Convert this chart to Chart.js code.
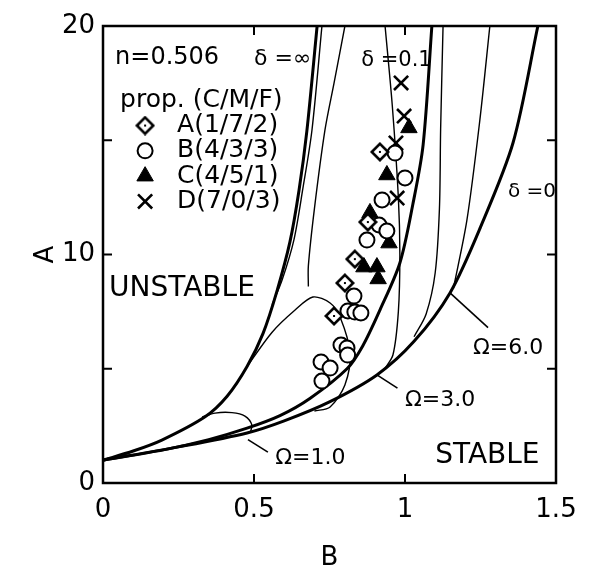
<!DOCTYPE html>
<html>
<head>
<meta charset="utf-8">
<script src="https://cdn.jsdelivr.net/npm/chart.js@4.4.1/dist/chart.umd.min.js"></script>
<style>
 html,body{margin:0;padding:0;background:#fff;}
 #wrap{position:relative;width:589px;height:571px;}
</style>
</head>
<body>
<div id="wrap"><canvas id="chartID"></canvas></div>
<script>
// axes
var xTicks=[0,0.5,1,1.5];
var yTicks=[0,5,10,15,20];
var yLabels=['0','','10','','20'];

// thick boundary curves, points are [B, A]
var deltaInf=[[0,1],[0.1,1.4],[0.195,1.88],[0.338,2.9],[0.411,3.8],[0.477,5.1],[0.53,6.55],[0.576,8.4],[0.619,10.55],[0.649,12.8],[0.675,15.4],[0.709,20]];
var deltaMid=[[0,1],[0.2,1.45],[0.35,1.9],[0.477,2.4],[0.586,2.95],[0.685,3.7],[0.808,5.0],[0.86,6.0],[0.917,7.57],[0.983,9.63],[1.026,12.2],[1.06,14.8],[1.089,20]];
var deltaZero=[[0,1],[0.25,1.58],[0.477,2.19],[0.6,2.72],[0.75,3.55],[0.907,4.73],[1.03,6.2],[1.149,8.32],[1.25,11.2],[1.358,14.9],[1.44,20]];

// thin curves
var omega1=[[0.328,2.88],[0.371,3.06],[0.427,3.08],[0.47,2.93],[0.493,2.54],[0.487,2.19]];
var omega3=[[0.477,5.1],[0.56,6.6],[0.636,7.57],[0.695,8.14],[0.752,7.88],[0.785,7.26],[0.818,5.69],[0.801,4.29],[0.752,3.33],[0.7,3.15]];
var thinA=[[0.56,7.8],[0.593,8.88],[0.632,10.63],[0.662,12.9],[0.692,15.45],[0.725,20]];
var thinB=[[0.801,20],[0.765,17.5],[0.735,15.45],[0.7,12],[0.68,9.5],[0.68,8.6]];
var thinC=[[0.934,20],[0.958,16.5],[0.978,12.5],[0.983,10],[0.978,7.5],[0.96,5.6],[0.93,4.95]];
var thinD=[[1.126,20],[1.118,15.5],[1.114,12],[1.1,9.2],[1.07,7.4],[1.03,6.4]];
var thinE=[[1.281,20],[1.248,15.9],[1.205,11.5],[1.16,8.5]];

// measured points, [B, A]
var propA=[[0.917,14.49],[0.877,11.42],[0.834,9.8],[0.801,8.75],[0.765,7.31]];
var propB=[[0.967,14.44],[1.0,13.35],[0.924,12.39],[0.914,11.29],[0.94,11.03],[0.874,10.63],[0.831,8.18],[0.811,7.53],[0.834,7.48],[0.854,7.44],[0.788,6.04],[0.808,5.91],[0.81,5.6],[0.722,5.3],[0.752,5.03],[0.725,4.46]];
var propC=[[1.013,15.54],[0.94,13.48],[0.884,11.82],[0.947,10.5],[0.864,9.45],[0.907,9.45],[0.911,8.93]];
var propD=[[0.987,17.51],[0.997,16.06],[0.97,14.88],[0.974,12.47]];
var propNames=['A(1/7/2)','B(4/3/3)','C(4/5/1)','D(7/0/3)'];

// text labels, [B, A]
var notes=[
 {t:'n=0.506',p:[0.04,18.6],s:24},
 {t:'\u03b4 =\u221e',p:[0.5,18.55],s:22},
 {t:'\u03b4 =0.1',p:[0.855,18.5],s:21},
 {t:'\u03b4 =0',p:[1.341,12.73],s:20},
 {t:'UNSTABLE',p:[0.02,8.5],s:28},
 {t:'STABLE',p:[1.1,1.2],s:28},
 {t:'\u03a9=1.0',p:[0.57,1.1],s:22},
 {t:'\u03a9=3.0',p:[1.0,3.6],s:22},
 {t:'\u03a9=6.0',p:[1.225,5.9],s:22}
];
var pointers=[[[0.48,1.9],[0.546,1.35]],[[0.907,4.73],[0.975,4.15]],[[1.149,8.32],[1.275,6.8]]];

function line(d,w){
 return {type:'scatter',data:d.map(function(p){return {x:p[0],y:p[1]};}),showLine:true,pointRadius:0,borderColor:'#000',borderWidth:w,tension:0.3,order:2};
}
function diamondImg(){
 var c=document.createElement('canvas');c.width=20;c.height=20;
 var g=c.getContext('2d');
 g.lineWidth=2.6;g.strokeStyle='#000';g.fillStyle='#fff';
 g.beginPath();g.moveTo(10,1.8);g.lineTo(18.2,10);g.lineTo(10,18.2);g.lineTo(1.8,10);g.closePath();
 g.fill();g.stroke();
 g.fillStyle='#000';g.fillRect(9,9,2,2);
 return c;
}
var dImg=diamondImg();
function pts(d,style,r,fill,bw){
 return {type:'scatter',data:d.map(function(p){return {x:p[0],y:p[1]};}),pointStyle:style,pointRadius:r,backgroundColor:fill,borderColor:'#000',borderWidth:bw,order:0};
}

var sets=[
 line(deltaInf,3),line(deltaMid,3),line(deltaZero,3),
 line(omega1,1.4),line(omega3,1.4),line(thinA,1.4),line(thinB,1.4),line(thinC,1.4),line(thinD,1.4),line(thinE,1.4),
 pts(propA,dImg,8,'#fff',2),pts(propB,'circle',7.5,'#fff',2),pts(propC,'triangle',9.5,'#000',1),pts(propD,'crossRot',10,'#000',2.6)
];
for (var i=0;i<4;i++) {sets[10+i].label=propNames[i];}

var frame={id:'frame',afterDraw:function(c){
 var g=c.ctx,a=c.chartArea,xs=c.scales.x,ys=c.scales.y;
 g.save();
 g.strokeStyle='#000';g.lineWidth=2.5;
 g.strokeRect(a.left,a.top,a.right-a.left,a.bottom-a.top);
 g.lineWidth=2;
 xTicks.slice(1,-1).forEach(function(v){var px=xs.getPixelForValue(v);
  g.beginPath();g.moveTo(px,a.bottom);g.lineTo(px,a.bottom-9);g.moveTo(px,a.top);g.lineTo(px,a.top+9);g.stroke();});
 yTicks.slice(1,-1).forEach(function(v){var py=ys.getPixelForValue(v);
  g.beginPath();g.moveTo(a.left,py);g.lineTo(a.left+9,py);g.moveTo(a.right,py);g.lineTo(a.right-9,py);g.stroke();});
 // pointers
 g.lineWidth=1.6;
 pointers.forEach(function(p){g.beginPath();g.moveTo(xs.getPixelForValue(p[0][0]),ys.getPixelForValue(p[0][1]));g.lineTo(xs.getPixelForValue(p[1][0]),ys.getPixelForValue(p[1][1]));g.stroke();});
 // notes
 g.fillStyle='#000';g.textBaseline='middle';g.textAlign='left';
 notes.forEach(function(n){g.font=n.s+'px "DejaVu Sans"';g.fillText(n.t,xs.getPixelForValue(n.p[0]),ys.getPixelForValue(n.p[1]));});
 // legend
 var lx=xs.getPixelForValue(0.05),ly=ys.getPixelForValue(16.75);
 g.font='25px "DejaVu Sans"';
 g.fillText('prop. (C/M/F)',lx+2,ly);
 c.data.datasets.forEach(function(d){
  if (!d.label) return;
  ly+=25.3;
  g.fillStyle=d.backgroundColor;g.strokeStyle='#000';g.lineWidth=d.borderWidth;
  Chart.helpers.drawPoint(g,{pointStyle:d.pointStyle,radius:d.pointRadius,rotation:0,borderWidth:d.borderWidth},lx+27,ly);
  g.fillStyle='#000';
  g.fillText(d.label,lx+59,ly);
 });
 g.restore();
}};

new Chart(document.getElementById('chartID'),{
 type:'scatter',
 data:{datasets:sets},
 options:{
  responsive:true,maintainAspectRatio:false,animation:false,
  layout:{padding:{top:26,right:33,left:0,bottom:0}},
  plugins:{legend:{display:false},tooltip:{enabled:false}},
  scales:{
   x:{type:'linear',min:0,max:1.5,
    afterFit:function(s){s.height=88;},
    afterBuildTicks:function(s){s.ticks=xTicks.map(function(v){return {value:v};});},
    grid:{display:false,drawTicks:false},border:{display:false},
    ticks:{padding:12,color:'#000',font:{family:'DejaVu Sans',size:26},callback:function(v){return String(v);}},
    title:{display:true,text:'B',color:'#000',font:{family:'DejaVu Sans',size:26},padding:{top:0,bottom:-3}}},
   y:{type:'linear',min:0,max:20,
    afterFit:function(s){s.width=103;},
    afterBuildTicks:function(s){s.ticks=yTicks.map(function(v){return {value:v};});},
    grid:{display:false,drawTicks:false},border:{display:false},
    ticks:{padding:8,color:'#000',font:{family:'DejaVu Sans',size:26},callback:function(v){return yLabels[yTicks.indexOf(v)];}},
    title:{display:true,text:'A',color:'#000',font:{family:'DejaVu Sans',size:26},padding:{top:31,bottom:0}}}
  }
 },
 plugins:[frame]
});
</script>
</body>
</html>
